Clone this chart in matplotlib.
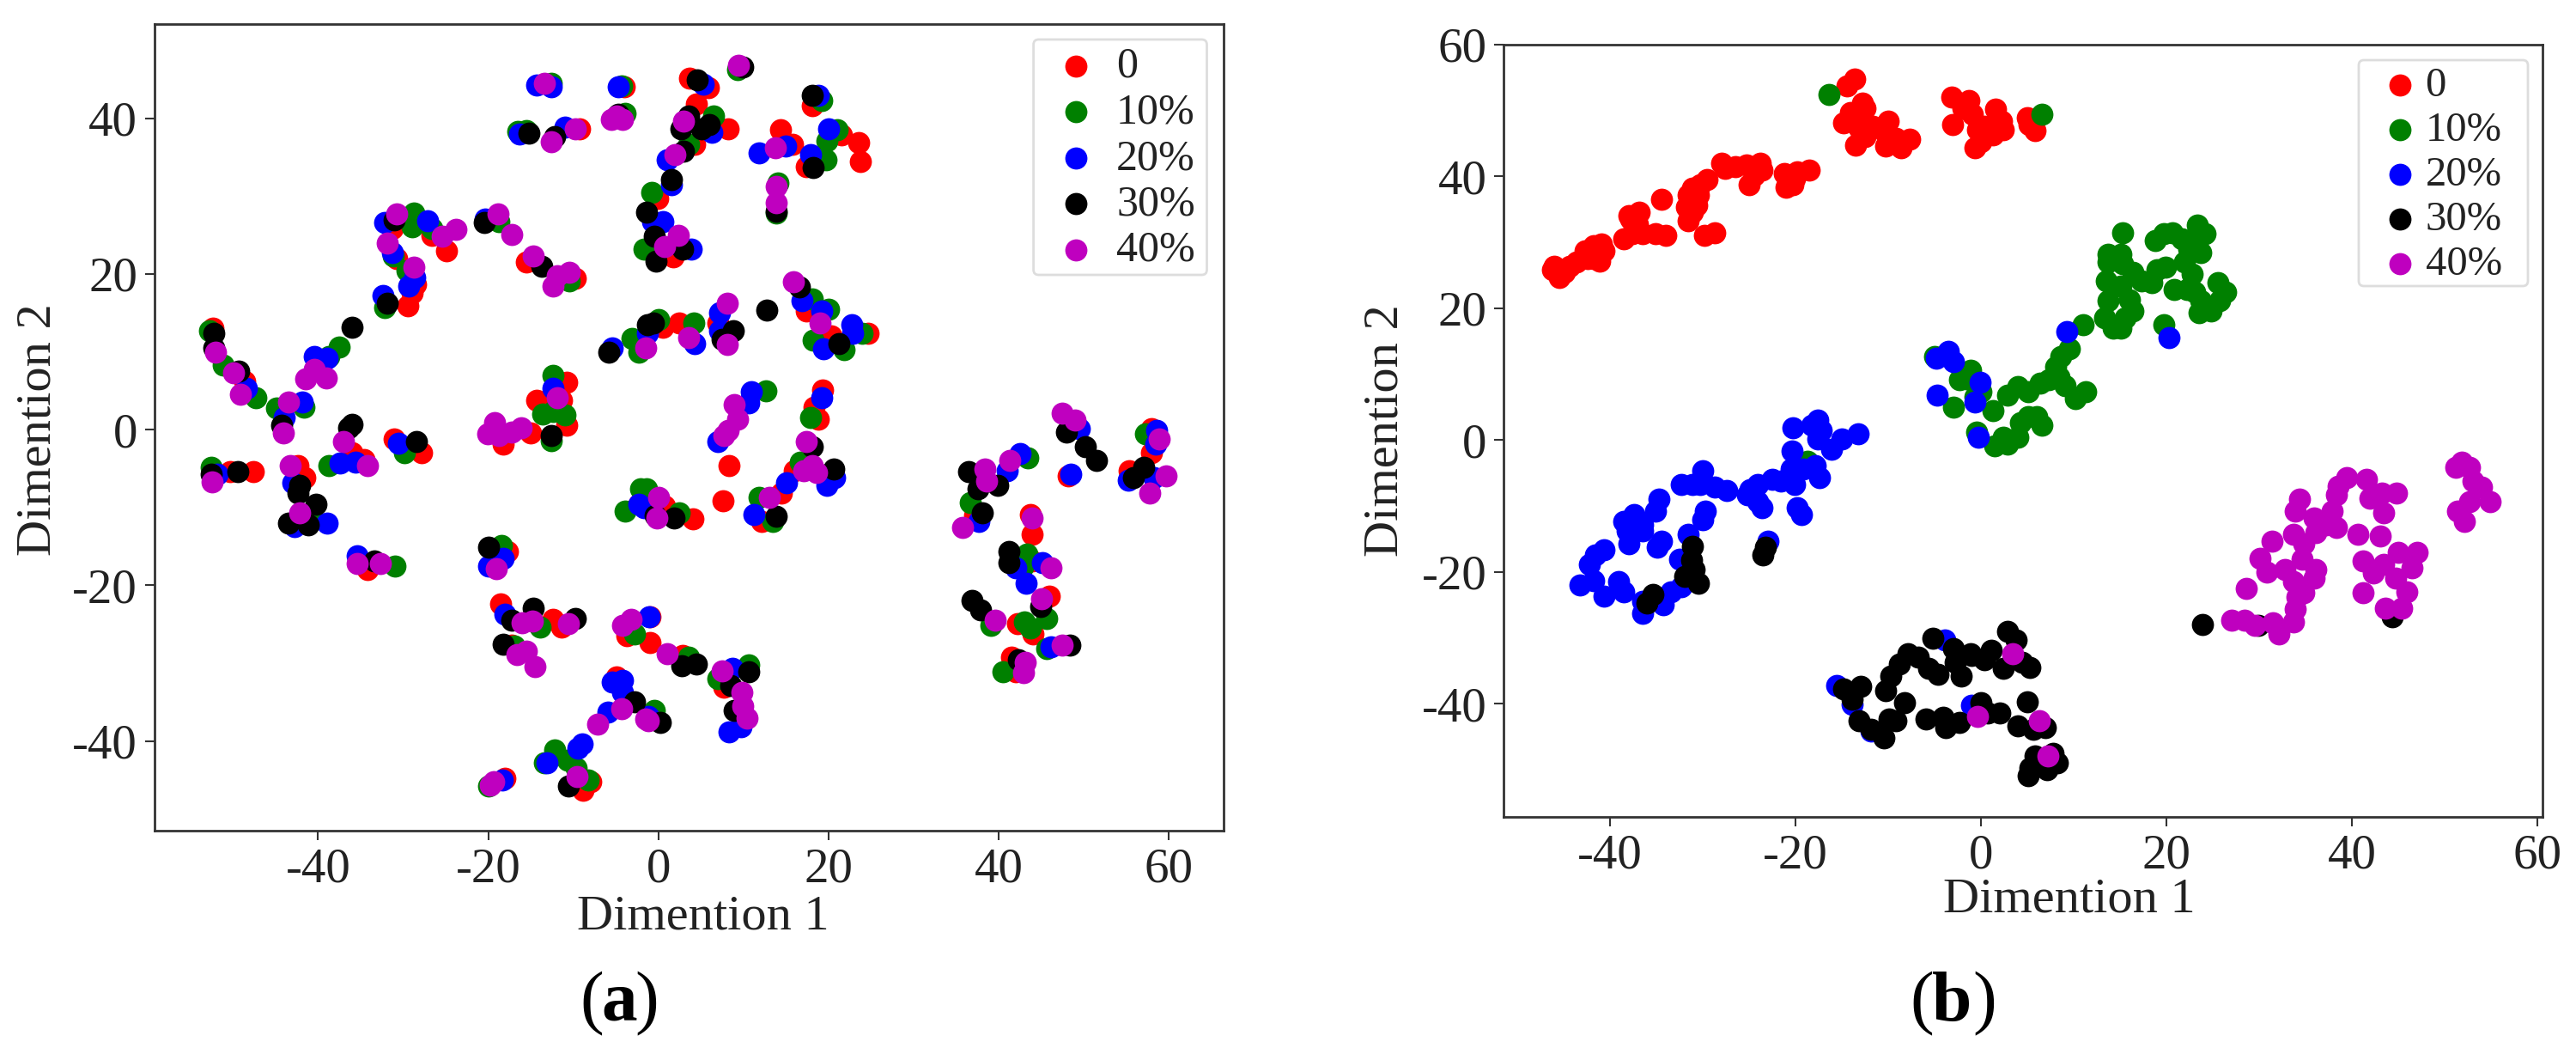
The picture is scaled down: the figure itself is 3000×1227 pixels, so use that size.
import numpy as np
import matplotlib
matplotlib.use("Agg")
import matplotlib.pyplot as plt
from matplotlib.patches import FancyBboxPatch
from matplotlib.transforms import IdentityTransform

W, H = 3000, 1227
plt.rcParams['font.family'] = ['Liberation Serif', 'DejaVu Serif']
plt.rcParams['axes.unicode_minus'] = False

labels = ['0', '10%', '20%', '30%', '40%']
colors = ['#ff0000', '#008000', '#0000ff', '#000000', '#bf00bf']
xticks_a = [-40, -20, 0, 20, 40, 60]
yticks_a = [-40, -20, 0, 20, 40]
xticks_b = [-40, -20, 0, 20, 40, 60]
yticks_b = [-40, -20, 0, 20, 40, 60]

# ---------- panel (a) ----------
a_red = [(-4,44.1),(-9.3,38.6),(-31.2,25.8),(-26.6,25),(-24.9,23),(-30.7,22),(-28.5,18.7),(-28.9,17.6),(-29.4,15.9),
 (-15.5,21.5),(-9.8,19.4),(-52.3,13),(-48.6,6.2),(-36,-2.9),(-34.6,-3.8),(-31,-1.2),(-27.8,-3),(-50.3,-5.4),(-47.6,-5.4),
 (-42.3,-4.6),(-41.5,-6.1),(-18.2,-1.8),(-14.3,3.8),(-10.8,0.6),(-15,-0.4),(-10.8,6.1),(-11.4,3.8),(0.5,13.1),(2.4,13.7),
 (7,13.7),(17.4,15.3),(24.6,12.4),(20.3,12),(3.7,45.1),(5.9,43.9),(4.5,41.8),(8.2,38.6),(4.3,36.6),(-0.1,29.7),(1.7,22.2),
 (14.4,38.5),(15.8,36.7),(18.1,41.6),(21.5,37.9),(23.5,36.9),(23.7,34.5),(17.4,33.8),(19.3,5.1),(18.3,2.9),(18.8,1.4),
 (16,-5.3),(14.5,-8.1),(12.1,-11.8),(8.3,-4.6),(7.6,-9.1),(0.7,-9.8),(4.1,-11.5),(-2.3,-9.6),(37.2,-11),(43.7,-10.9),(48.2,-5.9),
 (57.9,0.1),(57.9,-2.9),(55.3,-5.3),(43.9,-13.4),(43.9,-16.9),(45.9,-21.4),(42.2,-24.9),(44,-26.2),(41.5,-29.2),(42,-31.1),
 (-34.2,-18),(-17.7,-15.6),(-18.5,-22.4),(-12.4,-24.4),(-11.4,-25.3),(-17.2,-27.7),(-4.9,-31.8),(-3.7,-26.4),(-1,-27.3),
 (-1,-24),(2.9,-29),(7.7,-33.1),(-18,-44.8),(-8.9,-46.3),(-7.9,-45.2)]
a_green = [(-12.6,44.5),(-4.3,44.2),(-16.5,38.3),(-15.5,38.4),(-3.9,40.6),(-28.7,27.8),(-28.9,26.1),(-26.6,25.8),(-31.1,22.3),
 (-29.5,20.4),(-32.2,15.7),(-18.7,26.7),(-10.5,19.1),(-52.7,12.7),(-51.1,8.3),(-47.3,4.1),(-44.9,2.8),(-41.6,2.9),(-37.5,10.6),
 (-38.7,9.4),(-38.7,-4.6),(-29.8,-2.9),(-52.5,-4.8),(-40.6,-11.3),(-13.6,2),(-12.4,2.3),(-11,1.9),(-12.6,-1.4),(-12.4,7),
 (-3.1,11.7),(-2.3,9.9),(0,14.2),(4.2,13.7),(18.1,16.8),(20,15.5),(18.2,11.5),(21.8,10.3),(23.9,12.4),(9.3,46.2),(6.5,40.3),
 (3.6,36.6),(-0.8,30.5),(-1.7,23.2),(14.1,31.7),(13.9,27.8),(19.2,42.3),(21,38.5),(19.8,37.1),(19.7,34.7),(12.6,5),(17.9,1.6),
 (16.7,-4.2),(11.8,-8.7),(13.4,-11.8),(-1.4,-7.6),(2.4,-10.7),(-3.9,-10.5),(-2.1,-7.6),(36.7,-9.4),(43.4,-3.6),(57.2,-0.5),
 (43.3,-16),(42.8,-17.6),(45.6,-24.3),(39.1,-25.1),(43,-24.7),(43.7,-25.5),(45.6,-28.1),(40.5,-31.1),(-30.9,-17.5),(-18.4,-14.9),
 (-13.9,-25.3),(-2.8,-26.2),(-16.9,-27.8),(3.6,-29.2),(7,-32),(10.6,-30.2),(-0.5,-36.1),(-12.2,-41.1),(-13.4,-42.8),(-10.7,-42.4),
 (-9.7,-43.5),(-8.2,-45),(-19.9,-45.8)]
a_blue = [(-14.3,44.3),(-12.6,44.1),(-4.7,44.1),(-16.3,38),(-11,38.9),(-32.2,26.6),(-27.1,26.8),(-31.2,22.8),(-28.6,19.6),(-29.3,18.5),
 (-32.4,17.2),(-20.4,27.1),(-48.4,5.3),(-41.8,3.5),(-44,1.6),(-40.4,9.4),(-38.9,9.2),(-37.4,-4.3),(-35.6,-4.2),(-30.5,-1.7),(-51.8,-5.7),
 (-43,-6.8),(-38.9,-12),(-42.8,-12.4),(-12.4,5.3),(-5.4,10.5),(-1.3,12.4),(7.2,15),(7.2,12.7),(4.3,11.1),(16.9,16.6),(19.2,15.3),
 (19.4,10.4),(22.7,13.5),(22.8,12.4),(5.3,44.4),(6.3,38.2),(1,34.7),(1.5,31.5),(0.5,26.7),(-0.7,26.7),(3.9,23.2),(15,36.4),(11.8,35.6),
 (18.8,42.9),(20,38.6),(17.9,35.3),(10.9,4.9),(10.6,3.4),(7,-1.5),(19.2,4.1),(20.7,-6.1),(19.8,-7.2),(15.1,-6.8),(11.2,-10.9),
 (-1.7,-10),(-2.3,-9.6),(42.5,-3.1),(41,-5.3),(37.7,-11.8),(49.5,0.1),(48.5,-5.7),(58.6,-0.1),(58.4,-1.8),(55.2,-6.5),(58.2,-6.1),
 (42,-17.7),(43.2,-19.7),(45.1,-17.1),(46.1,-27.9),(-35.4,-16.2),(-18.2,-16.5),(-20,-17.5),(-18,-23.7),(-5.4,-32.4),(-4.2,-32.2),
 (-4.2,-33.7),(-5.9,-36.3),(-1.1,-24),(8.7,-30.7),(8.3,-38.8),(9.7,-38.1),(-1.2,-36.8),(-9.5,-40.9),(-9,-40.4),(-13.1,-42.8),(-18.3,-45)]
a_black = [(-15.2,38.1),(-12.2,37.6),(-4.7,40.5),(-31,26.9),(-31.9,16.2),(-20.5,26.6),(-13.7,21),(-52.2,12.4),(-52.2,10.5),(-49.3,7.5),
 (-44.3,0.6),(-36,13.1),(-36,0.7),(-36.4,0.3),(-28.4,-1.5),(-52.5,-5.7),(-49.4,-5.4),(-42.1,-7.2),(-42.3,-8.1),(-40.2,-9.6),(-43.5,-12),
 (-41.1,-12.2),(-12.6,-0.7),(-5.8,9.9),(-1.3,13.5),(-0.6,13.7),(8.8,12.7),(7.5,11.6),(12.7,15.4),(16.6,18.3),(21.2,11.1),(9.9,46.6),
 (4.6,44.9),(3.6,40.3),(2.7,38.6),(6,39.2),(5.1,38.6),(3,35.8),(1.5,32.1),(-1.4,27.9),(-0.5,24.8),(2.9,23.2),(-0.3,21.7),(13.9,28),
 (18.1,42.9),(18.2,33.7),(18.1,-2.2),(20.6,-5.1),(13.9,-11.1),(1.8,-11.3),(36.5,-5.4),(39.9,-7.2),(37.6,-7.6),(38.1,-10.7),(48,-0.3),
 (50.2,-2.2),(51.5,-3.9),(57,-4.8),(55.8,-6.2),(41.2,-15.6),(41.2,-17.1),(44.9,-22.7),(36.9,-21.9),(37.9,-23.2),(48.4,-27.7),(42.3,-29.5),
 (-33.4,-16.9),(-19.9,-15.1),(-17.2,-24.5),(-14.7,-22.9),(-9.8,-24.2),(-18.2,-27.6),(-2.8,-35),(2.8,-30.3),(4.5,-30.1),(10.6,-31.1),
 (8.5,-32.9),(8.9,-36.1),(0.2,-37.6),(-10.6,-45.8),(-0.4,-11)]
a_magenta = [(-13.4,44.5),(-9.8,38.6),(-12.6,37),(-5.5,39.8),(-4.2,39.8),(-4.9,40.3),(-30.7,27.7),(-25.4,24.8),(-23.8,25.7),(-31.9,24),(-28.7,20.9),
 (-18.8,27.7),(-17.2,25.1),(-14.7,22.3),(-12.4,18.5),(-11.9,19.8),(-10.5,20.2),(-52,10),(-49.9,7.3),(-49.1,4.5),(-43.5,3.5),(-44.1,-0.4),
 (-40.4,7.7),(-41.4,6.5),(-39,6.6),(-37,-1.5),(-34.2,-4.6),(-52.4,-6.7),(-43.3,-4.6),(-42.1,-10.7),(-19.2,0.9),(-20.1,-0.5),(-18.7,-0.7),
 (-17.2,-0.3),(-16.1,0.3),(-11.9,4.1),(-1.5,10.5),(3.6,11.8),(8.1,16.2),(8.1,10.9),(15.9,19),(19,13.7),(9.4,46.8),(3,39.6),(1.9,35.3),
 (2.3,25),(0.7,23.5),(13.8,36.2),(13.9,31.2),(13.9,29.1),(8.9,3.2),(9.3,1.4),(8.2,-0.1),(7.7,-0.8),(17.4,-1.5),(18.1,-4.6),(17.1,-5.3),
 (18.6,-5.5),(13,-8.7),(0,-8.7),(-0.2,-11.3),(38.4,-5.1),(38.6,-6.6),(41.3,-4),(35.7,-12.5),(43.9,-11.3),(47.5,2.1),(49,1.2),(58.9,-1.2),
 (59.7,-5.9),(57.7,-8.1),(46.1,-17.7),(45,-21.7),(39.6,-24.5),(47.5,-27.7),(43.1,-29.9),(42.9,-31.2),(-35.4,-17.2),(-32.7,-17.2),
 (-19,-17.8),(-16,-24.8),(-14.8,-24.6),(-10.6,-24.9),(-16.6,-28.9),(-15.5,-28.4),(-14.5,-30.4),(-4.3,-35.8),(-7.1,-37.8),(-1.5,-37.2),
 (-4.2,-25.1),(-3.2,-24.4),(1,-28.8),(7.5,-31),(9.8,-33.7),(9.9,-35.5),(10.4,-37),(-1.2,-37.4),(-9.6,-44.5),(-19.3,-45.2),(-19.7,-45.7)]

# ---------- panel (b) ----------
b_red = [(-46.2,25.9),(-45.5,24.7),(-44.9,25.4),(-46,26.4),(-44.4,26.4),(-43.6,27),(-42.4,27.5),(-42.7,28.7),(-41.8,29.5),(-41.1,27.2),
 (-40.9,29.8),(-40.7,28.7),(-41.8,27.5),(-38.5,30.5),(-37.6,31.3),(-36.5,31.3),(-37.8,33.6),(-36.9,34.6),(-38,34.1),(-37.1,32.8),
 (-35.1,31.3),(-34,31),(-34.5,36.5),(-31.6,33.3),(-31.8,35.4),(-31.1,34.6),(-31.6,37.2),(-30.9,36.1),(-31.1,38.2),(-30.5,37.2),
 (-30.3,38.7),(-29.6,39.5),(-30.7,35.6),(-29.8,31),(-28.7,31.5),(-28,42),(-27.6,41.2),(-25.3,41.8),(-23.8,42),(-23.6,41),(-25,38.7),
 (-24.5,40.2),(-26.5,41.5),(-21.2,40.5),(-21,38.3),(-20.3,38.7),(-19.8,40.7),(-18.5,41),(-20.1,39.7),(-13.6,54.8),(-14.5,53.8),
 (-12.8,51.2),(-12.5,50.4),(-14.1,49.7),(-14.8,48.1),(-13.2,47.4),(-12.5,46.1),(-13.5,44.7),(-11.7,47.6),(-10,48.4),(-10.3,44.6),
 (-10.3,46.6),(-8.6,44.3),(-7.7,45.7),(-9.2,45.8),(-3.2,52),(-1.3,51.5),(-3.1,47.9),(-0.9,49.4),(-2,50.4),(-0.7,44.3),(0,45.3),(-0.4,47.1),
 (0.4,47.6),(1.6,50.2),(2.2,48.4),(1.3,46.3),(2.4,47.1),(5,48.9),(5.8,46.9),(5.2,47.9)]
b_green = [(-16.4,52.4),(6.6,49.4),(15.3,31.5),(13.7,28.2),(15.1,28.2),(13.7,27),(15.3,26.7),(13.5,24.1),(16.4,25.4),(17.3,24.1),(18.4,23.9),(19,25.9),
 (19.9,26.2),(13.7,21.1),(16,21.3),(16.4,19.6),(15.1,23.4),(13.3,18.5),(14.2,17),(15.1,17),(15.5,18.5),(18.8,30.3),(19.7,31.3),(20.6,31.5),
 (21.7,30.5),(23.3,32.6),(24.2,31.3),(23,30.5),(23.7,28.5),(22.4,29),(21.9,27),(22.8,25.2),(20.8,22.9),(23,22.4),(25.5,23.9),(26.4,22.4),
 (25.7,21.1),(24.8,19.6),(23.5,19.3),(23.7,21.1),(22.2,22.9),(19.7,17.5),(11,17.5),(9.5,13.9),(8.6,12.7),(8,11.1),(7.3,9.1),(8.4,9.6),
 (9.1,8.3),(10.2,6.3),(11.3,7.3),(5.1,7.3),(4,8.1),(2.9,6.8),(1.3,4.5),(6.4,8.6),(6.6,2.2),(6,3.5),(4.2,2.7),(4,0.4),(2.9,-0.6),(1.5,-0.9),
 (-0.5,1.2),(5.1,3.5),(2.4,0.4),(-1.1,10.6),(-2.3,9.1),(0,7.3),(-3,5),(-1.6,9.3),(-5,12.7),(-18.7,-3.2),(-0.7,6.5)]
b_blue = [(20.3,15.6),(9.2,16.5),(-4.8,12.4),(-3.5,13.4),(-3,11.9),(-0.1,8.8),(-4.7,6.8),(-0.7,5.8),(-0.3,0.4),(-13.3,0.9),(-15,0.2),(-16.1,-1.4),
 (-17.6,3),(-18.3,2.2),(-17.2,1.4),(-20.3,1.8),(-20.4,-1.6),(-17.6,0.2),(-17.9,-3.9),(-17.4,-5.7),(-19.2,-4.4),(-20.5,-4.4),(-20.1,-6.7),
 (-19.8,-10.3),(-19.4,-11.3),(-23.6,-10.3),(-25.2,-8.3),(-24.1,-6.7),(-22.5,-6),(-21.6,-6.2),(-24.9,-7.5),(-24.1,-9.3),(-27.4,-7.7),(-28.7,-7.2),
 (-30,-4.7),(-30.3,-6.7),(-32.3,-6.7),(-31.1,-6.7),(-34.7,-9),(-35.1,-10.8),(-29.7,-10.8),(-30,-12.1),(-37.4,-11.3),(-38.5,-12.4),(-36.5,-12.9),
 (-38,-15.8),(-38.2,-13.8),(-36.5,-13.8),(-34.9,-16.3),(-34.5,-15.3),(-40.7,-16.6),(-41.6,-17.4),(-42.2,-18.9),(-43.3,-22),(-41.8,-21.4),
 (-40.7,-23.7),(-39.1,-21.5),(-38.5,-23),(-36.5,-26.3),(-36.5,-24.5),(-34.3,-25),(-33.4,-23),(-32.3,-22.2),(-32.5,-18.1),(-31.6,-14.3),
 (-23,-15.4),(-15.6,-37.3),(-13.9,-40.1),(-3.9,-30.4),(-1,-40.2),(-11.9,-44.2)]
b_black = [(-31.1,-16.1),(-30.9,-19.7),(-32,-20.7),(-30.5,-21.7),(-35.4,-23.5),(-36,-24.8),(-31.2,-18.2),(-23.3,-16.3),(-23.5,-17.4),(-14.8,-37.8),(-13,-37.4),(-13.9,-39.3),
 (-13.2,-42.6),(-11.9,-43.9),(-10.5,-45.2),(-9.9,-42.4),(-9.2,-42.6),(-10.3,-38.1),(-8.3,-39.8),(-9.7,-35.8),(-8.8,-34),(-7.9,-32.4),(-6.8,-32.9),
 (-5.7,-34.7),(-4.6,-35.5),(-5.2,-30.1),(-3,-31.7),(-2.8,-33.7),(-2.1,-35.8),(-1,-32.7),(-5.9,-42.4),(-4.1,-42.1),(-3.8,-43.6),(-2.3,-42.9),
 (0.4,-33.4),(1.1,-31.9),(2.4,-34.7),(2.9,-29.1),(3.8,-30.4),(5.3,-34.5),(4.4,-33.7),(-1.1,-32.4),(0,-39.8),(0.7,-41.4),(2,-41.4),(5,-39.7),
 (4,-43.4),(5.6,-43.9),(6.9,-43.7),(5.8,-48),(8.2,-49),(7.1,-50),(5.1,-51),(5.3,-49.8),(7.8,-47.5),(23.9,-28),(29.9,-28.1),(44.3,-26.8)]
b_magenta = [(27,-27.3),(28.4,-27.3),(29.5,-28.1),(31.5,-27.8),(32.1,-29.4),(33.7,-27.6),(33.9,-25.6),(34.1,-23.8),(34.8,-23.2),(35.9,-20.9),(36.1,-19.7),
 (33.7,-21.5),(32.8,-19.7),(30.8,-20),(28.6,-22.5),(30.1,-17.9),(31.4,-15.4),(34.6,-18.1),(34.8,-15.8),(33.7,-14.3),(36.1,-14.1),(38.3,-13.3),
 (40.6,-14.3),(43,-14.6),(41.2,-18.4),(42.3,-20.2),(41.2,-23.2),(43.4,-18.9),(45,-17.1),(47,-17.1),(46.5,-19.4),(45.9,-23),(45.4,-25.5),(43.6,-25.5),
 (44.7,-21),(39.4,-5.7),(38.5,-7),(41.6,-6),(41.9,-8.8),(43.4,-11.1),(44.8,-8),(43.2,-8),(34.3,-9),(33.9,-10.8),(35.9,-11.8),(37.9,-10.8),(38.3,-8.3),
 (37.2,-12.9),(51.8,-3.4),(51.2,-4.2),(52.7,-4.2),(53,-6.2),(54,-7.2),(54.9,-9.3),(52.7,-9.3),(51.4,-10.8),(52.1,-12.4),(3.4,-32.4),(-0.4,-42),
 (6.3,-42.6),(7.2,-48)]

a_series = [a_red, a_green, a_blue, a_black, a_magenta]
b_series = [b_red, b_green, b_blue, b_black, b_magenta]

fig = plt.figure(figsize=(W/100, H/100), dpi=100, facecolor='white')

def make_axes(l, r, t, b):
    return fig.add_axes([l/W, 1-b/H, (r-l)/W, (b-t)/H])

def draw(ax, series, xlim, ylim, xticks, yticks):
    for pts, c, lab in zip(series, colors, labels):
        xs, ys = zip(*pts)
        ax.scatter(xs, ys, s=345, c=c, linewidths=0, label=lab)
    ax.set_xlim(*xlim); ax.set_ylim(*ylim)
    ax.set_xticks(xticks); ax.set_yticks(yticks)
    ax.tick_params(length=8, width=1.5, labelsize=41, color='#333333', labelcolor='#222222', pad=6)
    for s in ax.spines.values():
        s.set_linewidth(2); s.set_color('#333333')

def place_labels(ax, xpos, ypos):
    ax.set_xlabel('Dimention 1', fontsize=42, color='#222222')
    ax.set_ylabel('Dimention 2', fontsize=42, color='#222222')
    ax.xaxis.set_label_coords(xpos[0]/W, 1-xpos[1]/H, transform=fig.transFigure)
    ax.yaxis.set_label_coords(ypos[0]/W, 1-ypos[1]/H, transform=fig.transFigure)
    ax.xaxis.label.set_verticalalignment('baseline')
    ax.yaxis.label.set_verticalalignment('center')

ax1 = make_axes(179.5, 1424.5, 28, 967)
draw(ax1, a_series, (-59.25, 66.37), (-51.5, 52.1), xticks_a, yticks_a)
place_labels(ax1, (819, 1082), (45, 500))

ax2 = make_axes(1751, 2960.5, 52, 951)
draw(ax2, b_series, (-51.5, 60.5), (-57.2, 60), xticks_b, yticks_b)
place_labels(ax2, (2410, 1062), (1614, 501))

def legend(ax, box, fs, spacing, bpad, hlen, hpad):
    l, r, t, b = box
    frame = FancyBboxPatch((l, H-b), r-l, b-t, boxstyle='round,pad=0,rounding_size=6',
                           transform=IdentityTransform(), facecolor='white', edgecolor='#dddddd',
                           linewidth=2, zorder=4, clip_on=False)
    ax.add_patch(frame)
    leg = ax.legend(loc='upper left', bbox_to_anchor=(l/W, 1-t/H), bbox_transform=fig.transFigure,
                    fontsize=fs, frameon=False, borderaxespad=0, labelspacing=spacing,
                    handletextpad=hpad, borderpad=bpad, scatterpoints=1, handlelength=hlen)
    leg.set_zorder(5)
    for t_ in leg.get_texts():
        t_.set_color('#222222')
    return leg

legend(ax1, (1203.6, 1405.5, 46, 320), 36, 0.14, 0.17, 1.64, 0.12)
legend(ax2, (2747, 2944, 70, 333), 35, 0.165, 0.165, 1.63, -0.2)

def panel_tag(xs, letter, base):
    y = 1 - base/H
    fig.text(xs[0]/W, y, '(', fontsize=60, ha='center', va='baseline', color='k')
    fig.text(xs[1]/W, y, letter, fontsize=60, fontweight='bold', ha='center', va='baseline', color='k')
    fig.text(xs[2]/W, y, ')', fontsize=60, ha='center', va='baseline', color='k')

panel_tag((689, 721, 753), 'a', 1188)
panel_tag((2238, 2273, 2311), 'b', 1188)

fig.savefig('out.png', dpi=100, facecolor='white')
